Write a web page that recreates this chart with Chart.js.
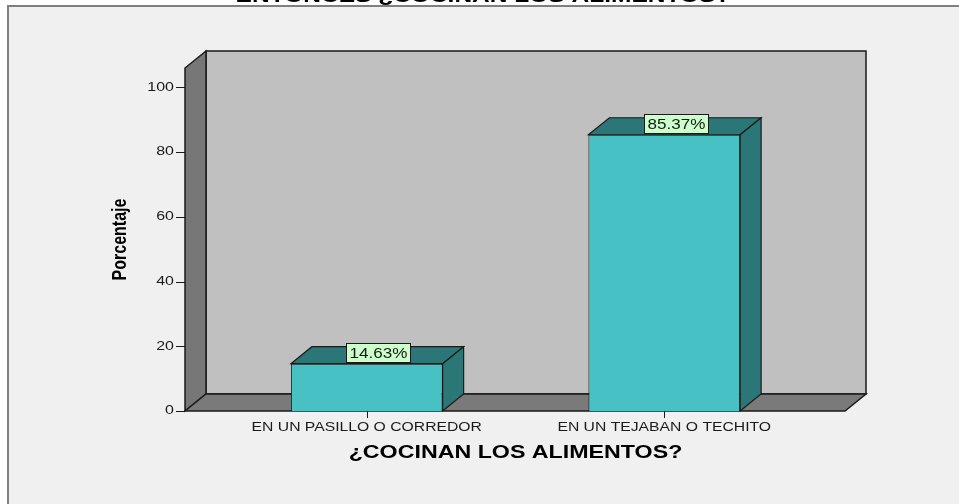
<!DOCTYPE html>
<html><head><meta charset="utf-8">
<script src="https://cdn.jsdelivr.net/npm/chart.js@4.4.1/dist/chart.umd.min.js"></script>
<style>html,body{margin:0;padding:0;background:#fff;overflow:hidden}#wrap{width:959px;height:504px}</style>
</head><body><div id="wrap"><canvas id="c" width="959" height="504"></canvas></div>
<script>
// ---- data ----
const chartTitle = 'ENTONCES ¿COCINAN LOS ALIMENTOS?';
const categories = ['EN UN PASILLO O CORREDOR', 'EN UN TEJABAN O TECHITO'];
const percentages = [14.63, 85.37];
const yTicks = [0, 20, 40, 60, 80, 100];
const yMax = 106;
const yAxisTitle = 'Porcentaje';
const xAxisTitle = '¿COCINAN LOS ALIMENTOS?';

// ---- style ----
const W = 959, H = 504;
const DX = 21, DY = 17;          // 3D depth offset
const WALL_L = 33, WALL_R = 32;  // wall extension beyond chart area
const SANS = '"Liberation Sans", Arial, sans-serif';
const INK = '#1a1a1a';
// horizontal text stretch (the original output is widened)
const STRETCH = { x: { labels: [1.31, 1], title: [1.29, 1] }, y: { labels: [1.33, 1], title: [1, 1.3] } };

function withStretch(ctx, sx, sy, fn) {
  const orig = CanvasRenderingContext2D.prototype.fillText;
  ctx.fillText = function (t, x, y, mw) {
    this.save(); this.translate(x, y); this.scale(sx, sy);
    if (mw === undefined) orig.call(this, t, 0, 0); else orig.call(this, t, 0, 0, mw / sx);
    this.restore();
  };
  try { fn(); } finally { delete ctx.fillText; }
}

function poly(ctx, pts, fill) {
  ctx.beginPath();
  pts.forEach((p, i) => i ? ctx.lineTo(p[0], p[1]) : ctx.moveTo(p[0], p[1]));
  ctx.closePath();
  ctx.fillStyle = fill; ctx.fill(); ctx.stroke();
}

const scenery = {
  id: 'scenery',
  beforeDraw(chart) {
    const { ctx, chartArea: ca, scales: { x, y } } = chart;
    [x, y].forEach(s => {
      if (s.__st) return; s.__st = true;
      const st = STRETCH[s.id]; const dl = s.drawLabels, dt = s.drawTitle;
      s.drawLabels = function (a) { withStretch(this.ctx, st.labels[0], st.labels[1], () => dl.call(this, a)); };
      s.drawTitle = function (a) { withStretch(this.ctx, st.title[0], st.title[1], () => dt.call(this, a)); };
    });
    ctx.save();
    ctx.fillStyle = '#ffffff'; ctx.fillRect(0, 0, W, H);
    ctx.fillStyle = '#f0f0f0'; ctx.fillRect(8, 6, W, H);
    ctx.strokeStyle = '#7f7f7f'; ctx.lineWidth = 2; ctx.strokeRect(8, 6, W + 10, H + 10);
    // main title (cut at top)
    ctx.font = 'bold 19px ' + SANS;
    ctx.textAlign = 'center'; ctx.textBaseline = 'alphabetic'; ctx.fillStyle = '#000';
    withStretch(ctx, 1.29, 1, () => ctx.fillText(chartTitle, 483, 2));
    // walls
    const y0 = y.getPixelForValue(0), yT = y.getPixelForValue(yMax);
    const L = ca.left - WALL_L, R = ca.right + WALL_R;
    ctx.strokeStyle = INK; ctx.lineWidth = 1.5; ctx.lineJoin = 'miter';
    poly(ctx, [[L + DX, yT - DY], [R + DX, yT - DY], [R + DX, y0 - DY], [L + DX, y0 - DY]], '#c0c0c0');
    poly(ctx, [[L, y0], [L, yT], [L + DX, yT - DY], [L + DX, y0 - DY]], '#777777');
    poly(ctx, [[L, y0], [R, y0], [R + DX, y0 - DY], [L + DX, y0 - DY]], '#7a7a7a');
    // y tick marks
    ctx.lineWidth = 1; ctx.strokeStyle = INK;
    y.ticks.forEach(t => {
      const py = Math.round(y.getPixelForValue(t.value)) + 0.5;
      ctx.beginPath(); ctx.moveTo(L - 9, py); ctx.lineTo(L, py); ctx.stroke();
    });
    // x tick marks
    categories.forEach((c, i) => {
      const px = Math.round(x.getPixelForValue(i)) + 0.5;
      ctx.beginPath(); ctx.moveTo(px, y0); ctx.lineTo(px, y0 + 7); ctx.stroke();
    });
    ctx.restore();
  },
  afterDatasetsDraw(chart) {
    const { ctx } = chart;
    const meta = chart.getDatasetMeta(0);
    ctx.save();
    ctx.strokeStyle = INK; ctx.lineWidth = 1.2; ctx.lineJoin = 'miter';
    meta.data.forEach((bar, i) => {
      const { x: cx, y: top, base, width } = bar.getProps(['x', 'y', 'base', 'width'], true);
      const xl = cx - width / 2, xr = cx + width / 2;
      poly(ctx, [[xl, top], [xl + DX, top - DY], [xr + DX, top - DY], [xr, top]], '#2b7677');
      poly(ctx, [[xr, top], [xr + DX, top - DY], [xr + DX, base - DY], [xr, base]], '#2b7677');
      // value label
      const txt = percentages[i].toFixed(2) + '%';
      const SX = 1.22;
      ctx.font = '14px ' + SANS;
      const tw = ctx.measureText(txt).width * SX;
      const bw = Math.round(tw + 6), bh = 19;
      const lx = cx + DX / 2 + 1;
      const bx = Math.round(lx - bw / 2) + 0.5, by = Math.round(top - 1.5 - bh) + 0.5;
      ctx.fillStyle = '#ccffcc'; ctx.lineWidth = 1;
      ctx.fillRect(bx, by, bw, bh);
      ctx.strokeRect(bx, by, bw, bh);
      ctx.fillStyle = INK; ctx.textAlign = 'center'; ctx.textBaseline = 'middle';
      withStretch(ctx, SX, 1, () => ctx.fillText(txt, bx + bw / 2, by + bh / 2 + 1));
      ctx.lineWidth = 1.2;
    });
    ctx.restore();
  }
};

new Chart(document.getElementById('c'), {
  type: 'bar',
  data: {
    labels: categories,
    datasets: [{
      data: percentages,
      backgroundColor: '#48c1c5',
      borderColor: INK,
      borderWidth: 1,
      barPercentage: 1,
      categoryPercentage: 0.51
    }]
  },
  options: {
    responsive: false,
    animation: false,
    devicePixelRatio: 1,
    layout: { padding: { left: 109, right: 146, top: 68, bottom: 40 } },
    plugins: { legend: { display: false }, tooltip: { enabled: false }, title: { display: false } },
    scales: {
      x: {
        type: 'category',
        offset: true,
        grid: { display: false, drawTicks: false, tickLength: 0 },
        border: { display: false },
        ticks: { color: INK, font: { family: SANS, size: 12 }, padding: 9, maxRotation: 0, autoSkip: false },
        title: { display: true, text: xAxisTitle, color: '#000', font: { family: SANS, size: 18, weight: 'bold' }, padding: { top: 0, bottom: 0 } },
        afterFit: s => { s.height = 53; }
      },
      y: {
        min: 0, max: yMax,
        grid: { display: false, drawTicks: false, tickLength: 0 },
        border: { display: false },
        afterBuildTicks: s => { s.ticks = yTicks.map(v => ({ value: v })); },
        ticks: { color: INK, font: { family: SANS, size: 12 }, padding: 44 },
        title: { display: true, text: yAxisTitle, color: '#000', font: { family: SANS, size: 16, weight: 'bold' }, padding: { top: 2, bottom: 0 } },
        afterFit: s => { s.width = 109; }
      }
    }
  },
  plugins: [scenery]
});
</script>
</body></html>
